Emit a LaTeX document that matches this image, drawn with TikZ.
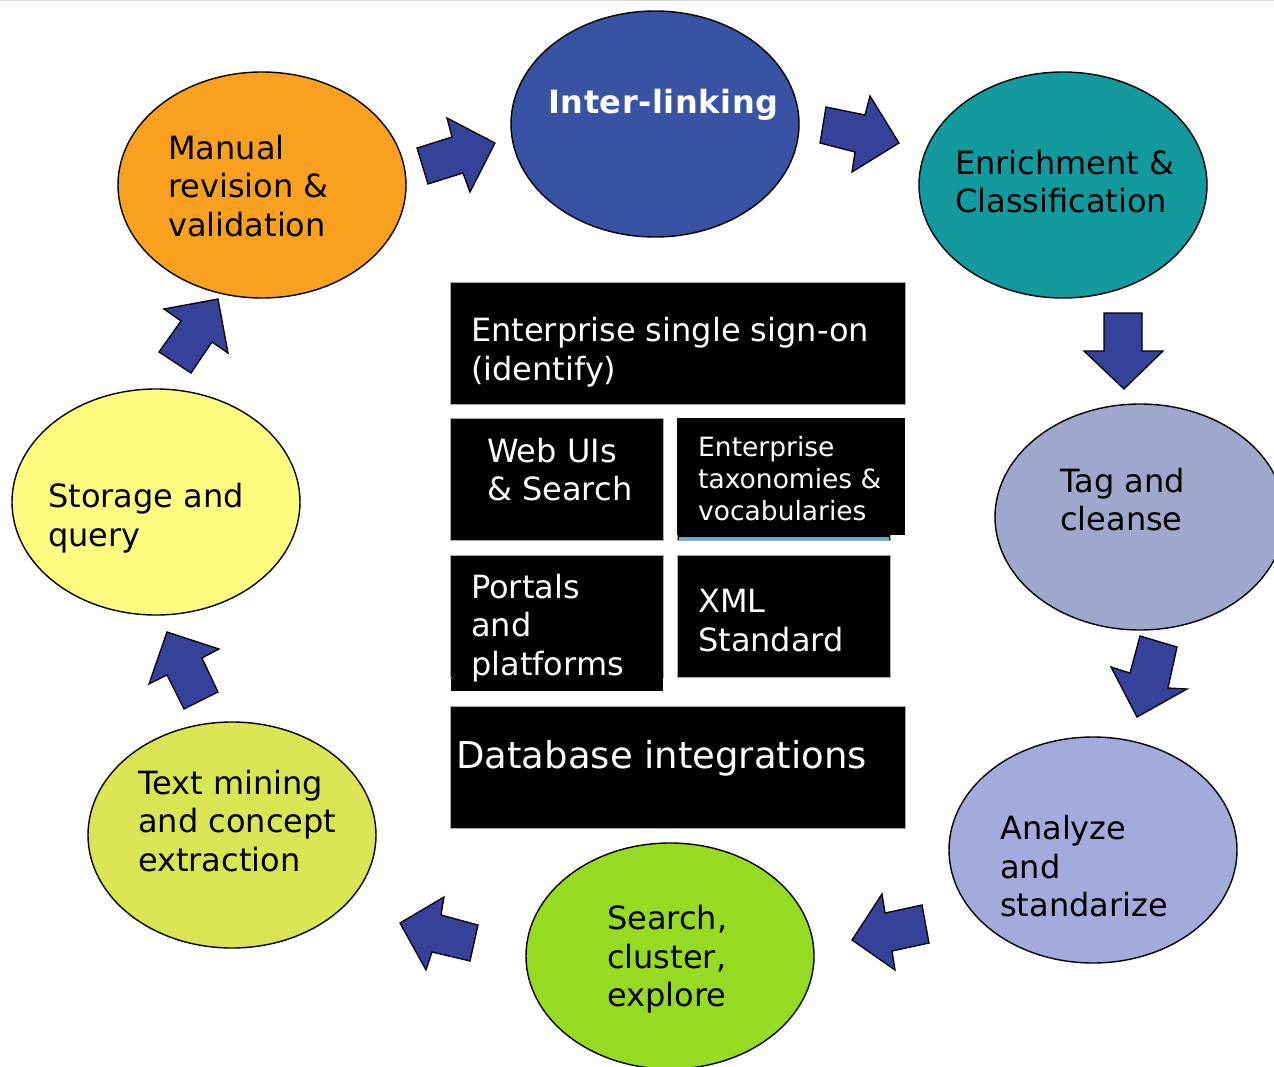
\documentclass[tikz,border=0pt]{standalone}
\usepackage{fontspec}
\setmainfont{DejaVu Sans}
\usetikzlibrary{shapes.geometric}
\definecolor{cOrange}{HTML}{F9A11F}
\definecolor{cBlue}{HTML}{3953A4}
\definecolor{cTeal}{HTML}{129A9E}
\definecolor{cTag}{HTML}{9EA7CC}
\definecolor{cAna}{HTML}{A3ABDC}
\definecolor{cGreen}{HTML}{97DA22}
\definecolor{cLime}{HTML}{DAE553}
\definecolor{cYellow}{HTML}{FEFD80}
\definecolor{cArrow}{HTML}{36429A}
\definecolor{cLine}{HTML}{49B5F0}
\begin{document}
\begin{tikzpicture}[x=1pt,y=-1pt,
  stage/.style={ellipse,draw=black,line width=1.4pt,minimum width=288pt,minimum height=226pt,inner sep=0pt},
  lbl/.style={anchor=west,align=left,inner sep=0pt,font=\fontsize{32}{38.5}\selectfont},
  blackbox/.style={rectangle,fill=black,draw=gray!70,line width=0.6pt,anchor=north west,inner sep=0pt},
  wlbl/.style={lbl,text=white},
  blockarrow/.style={fill=cArrow,draw=black,line width=1.3pt,line join=miter}]
\useasboundingbox (0,0) rectangle (1274,1067);
\clip (0,0) rectangle (1274,1067);
\draw[gray!30,line width=1pt] (0,1) -- (1274,1);
% stages
\node[stage,fill=cOrange] (manual) at (262,185) {};
\node[stage,fill=cBlue] (inter) at (655,124) {};
\node[stage,fill=cTeal] (enrich) at (1063,185) {};
\node[stage,fill=cTag,minimum width=290pt] (tag) at (1140,517) {};
\node[stage,fill=cAna] (analyze) at (1093,850) {};
\node[stage,fill=cGreen] (search) at (670,956) {};
\node[stage,fill=cLime] (textmin) at (232,835) {};
\node[stage,fill=cYellow] (storage) at (156,502) {};
% stage labels
\node[lbl] (tmanual) at (168,186) {Manual\\revision \&\\validation};
\node[anchor=base west,inner sep=0pt,text=white,font=\fontsize{32}{38}\selectfont\bfseries\addfontfeatures{LetterSpace=1.8}] (tinter) at (548,114) {Inter-linking};
\node[lbl] (tenrich) at (955,181.5) {Enrichment \&\\Classification};
\node[lbl] (ttag) at (1060,499.5) {Tag and\\cleanse};
\node[lbl] (tanalyze) at (1000,866.5) {Analyze\\and\\standarize};
\node[lbl] (tsearch) at (607,959.5) {Search,\\cluster,\\explore};
\node[lbl] (ttextmin) at (138,821) {Text mining\\and concept\\extraction};
\node[lbl] (tstorage) at (48,518) {Storage and\\query};
% central boxes
\node[blackbox,minimum width=455pt,minimum height=122pt] (sso) at (450,282) {};
\node[blackbox,minimum width=213pt,minimum height=122pt] (webui) at (450,418) {};
\node[blackbox,minimum width=213pt,minimum height=122pt] (taxback) at (677,418) {};
\draw[cLine,line width=3pt] (679,538) -- (889,538);
\node[blackbox,draw=none,minimum width=228pt,minimum height=117pt] (tax) at (677,418) {};
\node[blackbox,draw=none,minimum width=212pt,minimum height=20pt] (portext) at (451,671) {};
\node[blackbox,minimum width=213pt,minimum height=122pt] (portals) at (450,555) {};
\node[blackbox,draw=none,minimum width=211pt,minimum height=20pt] (portext2) at (451.5,671) {};
\node[blackbox,minimum width=213pt,minimum height=122pt] (xml) at (677,555) {};
\node[blackbox,minimum width=455pt,minimum height=122pt] (db) at (450,706) {};
% box labels
\node[wlbl] (tsso) at (471,352) {Enterprise single sign-on\\(identify)};
\node[wlbl] (twebui) at (487,469.5) {Web UIs\\\& Search};
\node[wlbl,font=\fontsize{26.5}{32}\selectfont] (ttax) at (698,478.5) {Enterprise\\taxonomies \&\\vocabularies};
\node[wlbl] (tportals) at (471,628) {Portals\\and\\platforms};
\node[wlbl] (txml) at (698,620.5) {XML\\Standard};
\node[anchor=base west,inner sep=0pt,text=white,font=\fontsize{37}{44}\selectfont] (tdb) at (456,768) {Database integrations};
% block arrows
\draw[blockarrow] (417,148) -- (452,137) -- (447,118) -- (495,143) -- (470,192) -- (463,173) -- (428,184) -- cycle;
\draw[blockarrow] (826,107) -- (865,115) -- (870,96) -- (899,143) -- (852,172) -- (855,152) -- (820,143) -- cycle;
\draw[blockarrow] (1104,313) -- (1142,313) -- (1142,351) -- (1163,351) -- (1124,389) -- (1084,351) -- (1104,351) -- cycle;
\draw[blockarrow] (1140,636) -- (1177,647) -- (1168,688) -- (1187,689) -- (1137,717) -- (1111,667) -- (1130,673) -- cycle;
\draw[blockarrow] (852,940) -- (882,894) -- (885,913) -- (922,905) -- (929,943) -- (892,951) -- (895,970) -- cycle;
\draw[blockarrow] (159,352) -- (191,373) -- (212,342) -- (228,353) -- (218,299) -- (164,309) -- (181,321) -- cycle;
\draw[blockarrow] (167,632) -- (219,649) -- (202,658) -- (218,692) -- (184,709) -- (167,675) -- (149,684) -- cycle;
\draw[blockarrow] (400,923) -- (444,897) -- (441,915) -- (478,925) -- (470,961) -- (432,952) -- (426,970) -- cycle;
\end{tikzpicture}
\end{document}
